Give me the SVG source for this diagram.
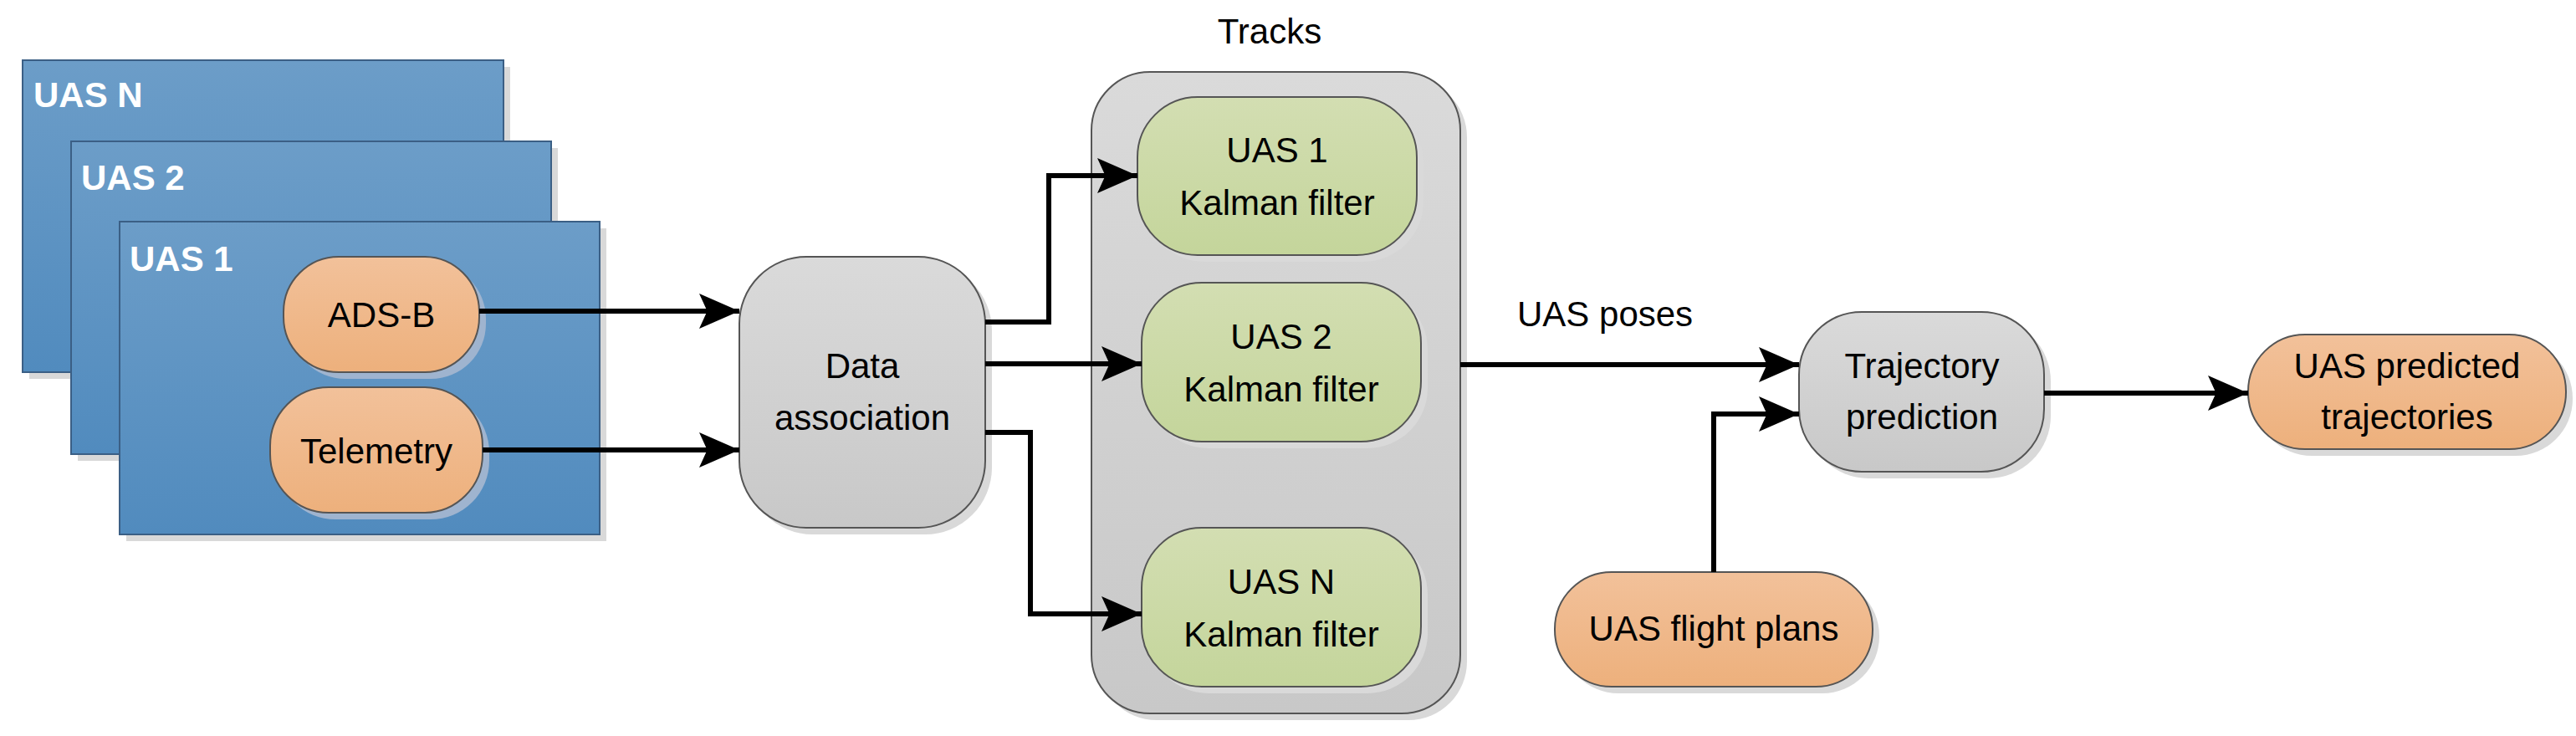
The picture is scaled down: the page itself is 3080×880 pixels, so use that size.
<svg xmlns="http://www.w3.org/2000/svg" width="3080" height="880" viewBox="0 0 3080 880">
<style>
text{font-family:"Liberation Sans",Arial,sans-serif;font-size:42px;fill:#000;text-anchor:middle}
.lbl{fill:#fff;font-weight:bold;text-anchor:start}
.blue{fill:url(#gB);stroke:#3b5f85;stroke-width:2}
.or{fill:url(#gO);stroke:#555;stroke-width:2}
.gr{fill:url(#gG);stroke:#555;stroke-width:2}
.gy{fill:url(#gY);stroke:#555;stroke-width:2}
.sh{fill:#d9d9d9}
.shb{fill:#9fb4cf}
.c{fill:none;stroke:#000;stroke-width:6;marker-end:url(#ah)}
</style>
<defs>
<linearGradient id="gB" x1="0" y1="0" x2="0" y2="1"><stop offset="0" stop-color="#6c9dc8"/><stop offset="1" stop-color="#518bbe"/></linearGradient>
<linearGradient id="gO" x1="0" y1="0" x2="0" y2="1"><stop offset="0" stop-color="#f2c19a"/><stop offset="1" stop-color="#edb07c"/></linearGradient>
<linearGradient id="gG" x1="0" y1="0" x2="0" y2="1"><stop offset="0" stop-color="#d3deb2"/><stop offset="1" stop-color="#c4d59b"/></linearGradient>
<linearGradient id="gY" x1="0" y1="0" x2="0" y2="1"><stop offset="0" stop-color="#dadada"/><stop offset="1" stop-color="#c8c8c8"/></linearGradient>
<marker id="ah" viewBox="0 0 10 10" refX="10" refY="5" markerWidth="8" markerHeight="7" orient="auto" markerUnits="strokeWidth" preserveAspectRatio="none"><path d="M0,0 L10,5 L0,10 L2,5 z" fill="#000"/></marker>
</defs>
<g id="uasN"><rect class="sh" x="35" y="80" width="575" height="373"/><rect class="blue" x="27" y="72" width="575" height="373"/><text class="lbl" x="40" y="128">UAS N</text></g>
<g id="uas2"><rect class="sh" x="93" y="177" width="574" height="374"/><rect class="blue" x="85" y="169" width="574" height="374"/><text class="lbl" x="97" y="227">UAS 2</text></g>
<g id="uas1"><rect class="sh" x="151" y="273" width="574" height="374"/><rect class="blue" x="143" y="265" width="574" height="374"/><text class="lbl" x="155" y="324">UAS 1</text></g>
<g id="adsb"><rect class="shb" x="347" y="315" width="234" height="138" rx="66"/><rect class="or" x="339" y="307" width="234" height="138" rx="66"/><text x="456" y="391">ADS-B</text></g>
<g id="telemetry"><rect class="shb" x="331" y="471" width="254" height="150" rx="70"/><rect class="or" x="323" y="463" width="254" height="150" rx="70"/><text x="450" y="554">Telemetry</text></g>
<g id="dataassoc"><rect class="sh" x="892" y="315" width="294" height="324" rx="80"/><rect class="gy" x="884" y="307" width="294" height="324" rx="80"/><text x="1031" y="452">Data</text><text x="1031" y="514">association</text></g>
<g id="tracks"><text x="1518" y="52">Tracks</text><rect class="sh" x="1313" y="94" width="441" height="767" rx="70"/><rect class="gy" x="1305" y="86" width="441" height="767" rx="70"/></g>
<g id="kf1"><rect class="sh" x="1368" y="124" width="334" height="189" rx="72"/><rect class="gr" x="1360" y="116" width="334" height="189" rx="72"/><text x="1527" y="194">UAS 1</text><text x="1527" y="257">Kalman filter</text></g>
<g id="kf2"><rect class="sh" x="1373" y="346" width="334" height="190" rx="72"/><rect class="gr" x="1365" y="338" width="334" height="190" rx="72"/><text x="1532" y="417">UAS 2</text><text x="1532" y="480">Kalman filter</text></g>
<g id="kfN"><rect class="sh" x="1373" y="639" width="334" height="190" rx="72"/><rect class="gr" x="1365" y="631" width="334" height="190" rx="72"/><text x="1532" y="710">UAS N</text><text x="1532" y="773">Kalman filter</text></g>
<g id="trajpred"><rect class="sh" x="2159" y="381" width="293" height="191" rx="75"/><rect class="gy" x="2151" y="373" width="293" height="191" rx="75"/><text x="2298" y="452">Trajectory</text><text x="2298" y="513">prediction</text></g>
<g id="flightplans"><rect class="sh" x="1867" y="692" width="380" height="137" rx="68"/><rect class="or" x="1859" y="684" width="380" height="137" rx="68"/><text x="2049" y="766">UAS flight plans</text></g>
<g id="predtraj"><rect class="sh" x="2696" y="408" width="380" height="137" rx="68"/><rect class="or" x="2688" y="400" width="380" height="137" rx="68"/><text x="2878" y="452">UAS predicted</text><text x="2878" y="513">trajectories</text></g>
<text x="1814" y="390" style="text-anchor:start">UAS poses</text>
<g id="connectors">
<path class="c" d="M573,372 H884"/>
<path class="c" d="M577,538 H884"/>
<path class="c" d="M1178,385 H1254 V210 H1360"/>
<path class="c" d="M1178,435 H1365"/>
<path class="c" d="M1178,517 H1232 V734 H1365"/>
<path class="c" d="M1746,436 H2151"/>
<path class="c" d="M2049,684 V495 H2151"/>
<path class="c" d="M2444,470 H2688"/>
</g>
</svg>
